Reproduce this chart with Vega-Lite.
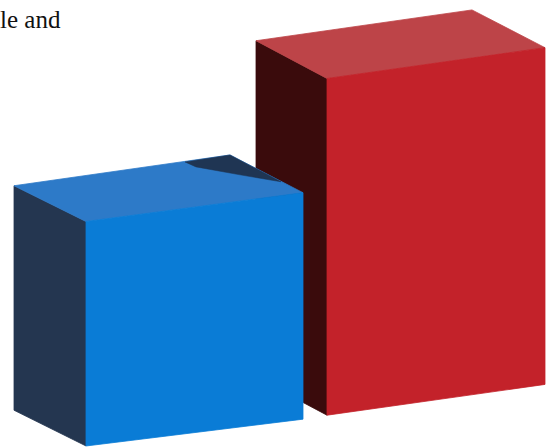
{
  "$schema": "https://vega.github.io/schema/vega-lite/v6.json",
  "width": 552,
  "height": 448,
  "autosize": {"type": "fit", "contains": "padding"},
  "padding": 0,
  "background": "white",
  "config": {"view": {"stroke": null}},
  "datasets": {
    "faces": [
      {"box": "red", "face": "r1side", "i": 0, "x": 256, "y": 41},
      {"box": "red", "face": "r1side", "i": 1, "x": 327, "y": 79},
      {"box": "red", "face": "r1side", "i": 2, "x": 327, "y": 418},
      {"box": "red", "face": "r1side", "i": 3, "x": 256, "y": 380},
      {"box": "red", "face": "r1side", "i": 4, "x": 256, "y": 41},
      {"box": "red", "face": "r2top", "i": 0, "x": 256, "y": 41},
      {"box": "red", "face": "r2top", "i": 1, "x": 472, "y": 10},
      {"box": "red", "face": "r2top", "i": 2, "x": 545, "y": 48},
      {"box": "red", "face": "r2top", "i": 3, "x": 327, "y": 79},
      {"box": "red", "face": "r2top", "i": 4, "x": 256, "y": 41},
      {"box": "red", "face": "r3front", "i": 0, "x": 327, "y": 79},
      {"box": "red", "face": "r3front", "i": 1, "x": 545, "y": 48},
      {"box": "red", "face": "r3front", "i": 2, "x": 545, "y": 387},
      {"box": "red", "face": "r3front", "i": 3, "x": 327, "y": 418},
      {"box": "red", "face": "r3front", "i": 4, "x": 327, "y": 79},
      {"box": "blue", "face": "b1side", "i": 0, "x": 14, "y": 187},
      {"box": "blue", "face": "b1side", "i": 1, "x": 86, "y": 223},
      {"box": "blue", "face": "b1side", "i": 2, "x": 86, "y": 449},
      {"box": "blue", "face": "b1side", "i": 3, "x": 14, "y": 413},
      {"box": "blue", "face": "b1side", "i": 4, "x": 14, "y": 187},
      {"box": "blue", "face": "b2top", "i": 0, "x": 14, "y": 187},
      {"box": "blue", "face": "b2top", "i": 1, "x": 230, "y": 156},
      {"box": "blue", "face": "b2top", "i": 2, "x": 303, "y": 194},
      {"box": "blue", "face": "b2top", "i": 3, "x": 86, "y": 223},
      {"box": "blue", "face": "b2top", "i": 4, "x": 14, "y": 187},
      {"box": "blue", "face": "b3front", "i": 0, "x": 86, "y": 223},
      {"box": "blue", "face": "b3front", "i": 1, "x": 303, "y": 194},
      {"box": "blue", "face": "b3front", "i": 2, "x": 303, "y": 422},
      {"box": "blue", "face": "b3front", "i": 3, "x": 86, "y": 449},
      {"box": "blue", "face": "b3front", "i": 4, "x": 86, "y": 223},
      {"box": "shadow", "face": "s1", "i": 0, "x": 185, "y": 163},
      {"box": "shadow", "face": "s1", "i": 1, "x": 230, "y": 156},
      {"box": "shadow", "face": "s1", "i": 2, "x": 281, "y": 183},
      {"box": "shadow", "face": "s1", "i": 3, "x": 240, "y": 176},
      {"box": "shadow", "face": "s1", "i": 4, "x": 196, "y": 168},
      {"box": "shadow", "face": "s1", "i": 5, "x": 185, "y": 163}
    ],
    "label": [{"text": "le and", "x": 0, "y": 28}]
  },
  "layer": [
    {
      "data": {"name": "faces"},
      "transform": [{"filter": "datum.box === 'red'"}],
      "mark": {"type": "line", "strokeWidth": 0.8, "interpolate": "linear"},
      "encoding": {
        "x": {"field": "x", "type": "quantitative", "scale": {"domain": [0, 552], "nice": false, "zero": false}, "axis": null},
        "y": {"field": "y", "type": "quantitative", "scale": {"domain": [0, 448], "nice": false, "zero": false, "reverse": true}, "axis": null},
        "detail": {"field": "face"},
        "order": {"field": "i", "type": "quantitative"},
        "fill": {"field": "face", "type": "nominal", "scale": {"domain": ["r1side", "r2top", "r3front", "b1side", "b2top", "b3front", "s1"], "range": ["#3a0b0c", "#bd4448", "#c3222a", "#243650", "#2d7ac8", "#0a7cd6", "#1f3553"]}, "legend": null},
        "stroke": {"field": "face", "type": "nominal", "scale": {"domain": ["r1side", "r2top", "r3front", "b1side", "b2top", "b3front", "s1"], "range": ["#3a0b0c", "#bd4448", "#c3222a", "#243650", "#2d7ac8", "#0a7cd6", "#1f3553"]}, "legend": null}
      }
    },
    {
      "data": {"name": "faces"},
      "transform": [{"filter": "datum.box === 'blue'"}],
      "mark": {"type": "line", "strokeWidth": 0.8, "interpolate": "linear"},
      "encoding": {
        "x": {"field": "x", "type": "quantitative"},
        "y": {"field": "y", "type": "quantitative"},
        "detail": {"field": "face"},
        "order": {"field": "i", "type": "quantitative"},
        "fill": {"field": "face", "type": "nominal", "legend": null},
        "stroke": {"field": "face", "type": "nominal", "legend": null}
      }
    },
    {
      "data": {"name": "faces"},
      "transform": [{"filter": "datum.box === 'shadow'"}],
      "mark": {"type": "line", "strokeWidth": 0.5, "interpolate": "linear"},
      "encoding": {
        "x": {"field": "x", "type": "quantitative"},
        "y": {"field": "y", "type": "quantitative"},
        "detail": {"field": "face"},
        "order": {"field": "i", "type": "quantitative"},
        "fill": {"field": "face", "type": "nominal", "legend": null},
        "stroke": {"field": "face", "type": "nominal", "legend": null}
      }
    },
    {
      "data": {"name": "label"},
      "mark": {"type": "text", "font": "Liberation Serif", "fontSize": 25, "align": "left", "baseline": "alphabetic", "color": "#111111"},
      "encoding": {
        "x": {"field": "x", "type": "quantitative"},
        "y": {"field": "y", "type": "quantitative"},
        "text": {"field": "text"}
      }
    }
  ]
}
